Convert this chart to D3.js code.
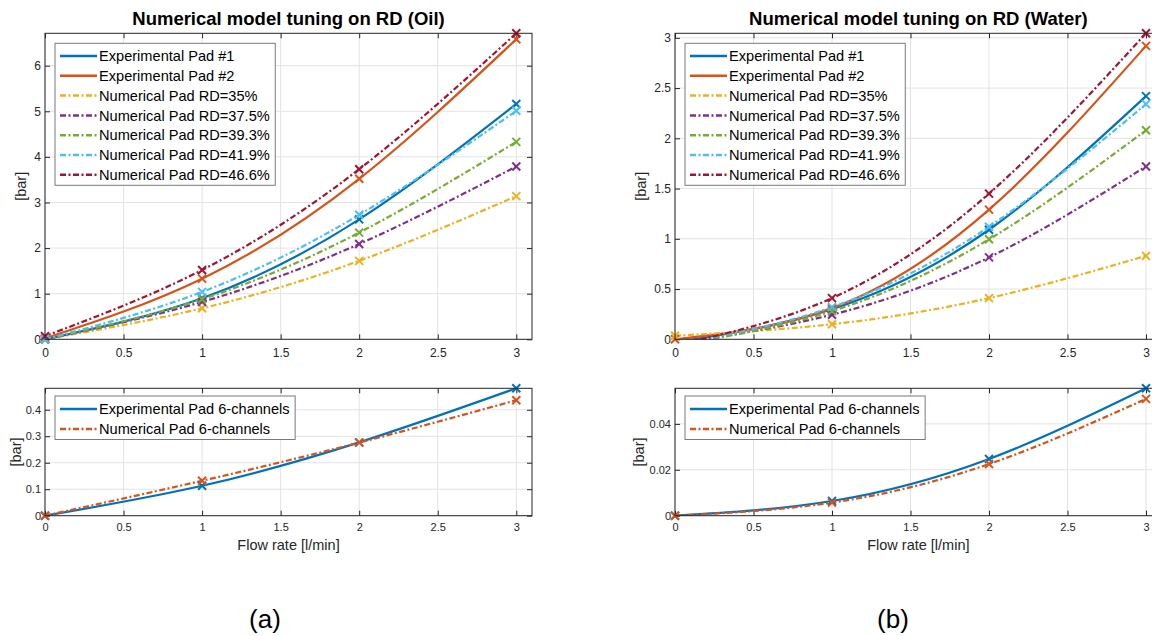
<!DOCTYPE html>
<html>
<head>
<meta charset="utf-8">
<script src="https://cdn.jsdelivr.net/npm/d3@7"></script>
<style>
  body { margin: 0; background: #fff; }
  svg { display: block; font-family: "Liberation Sans", Arial, sans-serif; }
</style>
</head>
<body>
<svg id="chart" width="1152" height="636"></svg>
<script>
// ---- data ----
const flowRate = [0, 1, 2, 3];
const flowTicks = [0, 0.5, 1, 1.5, 2, 2.5, 3];

const mainNames = ['Experimental Pad #1', 'Experimental Pad #2', 'Numerical Pad RD=35%',
    'Numerical Pad RD=37.5%', 'Numerical Pad RD=39.3%', 'Numerical Pad RD=41.9%', 'Numerical Pad RD=46.6%'];
const mainColors = ['#0072BD', '#D95319', '#EDB120', '#7E2F8E', '#77AC30', '#4DBEEE', '#A2142F'];
const mainDashed = [false, false, true, true, true, true, true];

const oilExp1 = [0, 0.90, 2.63, 5.16];
const oilExp2 = [0.02, 1.33, 3.52, 6.58];
const oilRD350 = [0, 0.68, 1.72, 3.14];
const oilRD375 = [0, 0.82, 2.09, 3.79];
const oilRD393 = [0, 0.88, 2.34, 4.33];
const oilRD419 = [0, 1.04, 2.73, 5.01];
const oilRD466 = [0.07, 1.52, 3.73, 6.71];

const waterExp1 = [-0.03, 0.30, 1.09, 2.42];
const waterExp2 = [0, 0.31, 1.29, 2.92];
const waterRD350 = [0.035, 0.15, 0.41, 0.83];
const waterRD375 = [-0.04, 0.245, 0.815, 1.72];
const waterRD393 = [-0.06, 0.28, 0.995, 2.08];
const waterRD419 = [-0.05, 0.32, 1.12, 2.34];
const waterRD466 = [-0.06, 0.41, 1.45, 3.045];

const chanNames = ['Experimental Pad 6-channels', 'Numerical Pad 6-channels'];
const chanColors = ['#0072BD', '#D95319'];
const chanDashed = [false, true];
const oilChanExp = [0, 0.113, 0.277, 0.481];
const oilChanNum = [0, 0.132, 0.276, 0.436];
const waterChanExp = [0, 0.0064, 0.0247, 0.0555];
const waterChanNum = [0, 0.0057, 0.0225, 0.0509];

const oilTicks = [0, 1, 2, 3, 4, 5, 6];
const waterTicks = [0, 0.5, 1, 1.5, 2, 2.5, 3];
const oilChanTicks = [0, 0.1, 0.2, 0.3, 0.4];
const waterChanTicks = [0, 0.02, 0.04];

const titles = ['Numerical model tuning on RD (Oil)', 'Numerical model tuning on RD (Water)'];
const xLabel = 'Flow rate [l/min]';
const yLabel = '[bar]';
const captions = ['(a)', '(b)'];

// ---- drawing ----
const svg = d3.select('#chart');
const defs = svg.append('defs');
const axisColor = '#262626';
const dashPattern = '6,2.5,2,2.5';

function buildSeries(names, colors, dashed, values) {
    return names.map((n, i) => ({ name: n, color: colors[i], dashed: dashed[i], values: values[i] }));
}

function drawPanel(p, idx) {
    const x = d3.scaleLinear().domain([0, 3.1]).range([p.left, p.right]);
    const yMax = d3.max(p.series, s => d3.max(s.values));
    const y = d3.scaleLinear().domain([0, yMax]).range([p.bottom, p.top]);
    const g = svg.append('g');

    // grid
    g.append('g').selectAll('line').data(flowTicks).join('line')
        .attr('x1', d => x(d)).attr('x2', d => x(d))
        .attr('y1', p.top).attr('y2', p.bottom)
        .attr('stroke', '#e3e3e3').attr('stroke-width', 1);
    g.append('g').selectAll('line').data(p.yTicks).join('line')
        .attr('x1', p.left).attr('x2', p.right)
        .attr('y1', d => y(d)).attr('y2', d => y(d))
        .attr('stroke', '#e3e3e3').attr('stroke-width', 1);

    // axes (ticks inward on all four sides)
    const fmt = d => String(d);
    const bottomAxis = g.append('g')
        .attr('transform', `translate(0, ${p.bottom})`)
        .call(d3.axisBottom(x).tickValues(flowTicks).tickFormat(fmt)
            .tickSizeInner(-5).tickSizeOuter(0).tickPadding(p.xPad));
    g.append('g')
        .attr('transform', `translate(0, ${p.top})`)
        .call(d3.axisTop(x).tickValues(flowTicks).tickFormat('')
            .tickSizeInner(-5).tickSizeOuter(0));
    const leftAxis = g.append('g')
        .attr('transform', `translate(${p.left}, 0)`)
        .call(d3.axisLeft(y).tickValues(p.yTicks).tickFormat(fmt)
            .tickSizeInner(-5).tickSizeOuter(0).tickPadding(4));
    g.append('g')
        .attr('transform', `translate(${p.right}, 0)`)
        .call(d3.axisRight(y).tickValues(p.yTicks).tickFormat('')
            .tickSizeInner(-5).tickSizeOuter(0));
    g.selectAll('.domain').remove();
    g.selectAll('.tick line').attr('stroke', axisColor);
    [bottomAxis, leftAxis].forEach(a => a
        .attr('font-family', null).attr('font-size', null)
        .selectAll('text').attr('fill', axisColor).style('font-size', p.tickFont + 'px'));

    // clip
    const clipId = 'clip' + idx;
    defs.append('clipPath').attr('id', clipId).append('rect')
        .attr('x', p.left).attr('y', p.top - 1)
        .attr('width', p.right - p.left).attr('height', p.bottom - p.top + 1);

    const line = d3.line()
        .x((d, i) => x(flowRate[i]))
        .y(d => y(d))
        .curve(d3.curveNatural);

    const plot = g.append('g').attr('clip-path', `url(#${clipId})`);
    p.series.forEach(s => {
        plot.append('path')
            .datum(s.values)
            .attr('fill', 'none')
            .attr('stroke', s.color)
            .attr('stroke-width', 2.2)
            .attr('stroke-dasharray', s.dashed ? dashPattern : null)
            .attr('d', line);
    });
    p.series.forEach(s => {
        g.append('g').selectAll('path')
            .data(s.values.map((v, i) => ({ v, fr: flowRate[i] })).filter(d => d.v >= 0))
            .join('path')
            .attr('transform', d => `translate(${x(d.fr)}, ${y(d.v)})`)
            .attr('d', 'M-4,-4L4,4M-4,4L4,-4')
            .attr('stroke', s.color)
            .attr('stroke-width', 2)
            .attr('fill', 'none');
    });

    // box
    g.append('rect')
        .attr('x', p.left).attr('y', p.top)
        .attr('width', p.right - p.left).attr('height', p.bottom - p.top)
        .attr('fill', 'none').attr('stroke', axisColor).attr('stroke-width', 1);

    // legend
    const lg = g.append('g');
    const lx = p.left + 10, ly = p.top + p.legendOffset;
    const box = lg.append('rect').attr('fill', '#fff').attr('stroke', '#7a7a7a').attr('stroke-width', 1);
    let maxW = 0;
    p.series.forEach((s, i) => {
        const cy = ly + p.legendFirst + i * p.legendStep;
        lg.append('line')
            .attr('x1', lx + 5).attr('x2', lx + 42)
            .attr('y1', cy).attr('y2', cy)
            .attr('stroke', s.color).attr('stroke-width', 2.5)
            .attr('stroke-dasharray', s.dashed ? dashPattern : null);
        const t = lg.append('text')
            .attr('x', lx + 44).attr('y', cy).attr('dy', '0.36em')
            .style('font-size', '14.6px').attr('fill', '#000')
            .text(s.name);
        maxW = Math.max(maxW, t.node().getComputedTextLength());
    });
    const lh = p.legendFirst + (p.series.length - 1) * p.legendStep + 10.5;
    box.attr('x', lx).attr('y', ly).attr('width', 44 + maxW + 5.5).attr('height', lh);

    // labels
    if (p.title) {
        g.append('text')
            .attr('x', (p.left + p.right) / 2).attr('y', p.top - 8)
            .attr('text-anchor', 'middle')
            .style('font-size', '18.5px').style('font-weight', 'bold').attr('fill', '#000')
            .text(p.title);
    }
    if (p.xLabel) {
        g.append('text')
            .attr('x', (p.left + p.right) / 2).attr('y', p.bottom + 34.5)
            .attr('text-anchor', 'middle')
            .style('font-size', '14.5px').attr('fill', axisColor)
            .text(p.xLabel);
    }
    g.append('text')
        .attr('transform', `translate(${p.left - p.yLabelOff}, ${(p.top + p.bottom) / 2}) rotate(-90)`)
        .attr('text-anchor', 'middle').attr('dy', '0.35em')
        .style('font-size', '14.5px').attr('fill', axisColor)
        .text(yLabel);
}

const panels = [
    { left: 45, right: 532, top: 33.3, bottom: 339.3, yTicks: oilTicks, title: titles[0],
      series: buildSeries(mainNames, mainColors, mainDashed,
          [oilExp1, oilExp2, oilRD350, oilRD375, oilRD393, oilRD419, oilRD466]),
      tickFont: 12, xPad: 9.5, yLabelOff: 24, legendOffset: 10, legendFirst: 12.7, legendStep: 19.8 },
    { left: 675, right: 1161.7, top: 33.3, bottom: 339.3, yTicks: waterTicks, title: titles[1],
      series: buildSeries(mainNames, mainColors, mainDashed,
          [waterExp1, waterExp2, waterRD350, waterRD375, waterRD393, waterRD419, waterRD466]),
      tickFont: 12, xPad: 9.5, yLabelOff: 34, legendOffset: 10, legendFirst: 12.7, legendStep: 19.8 },
    { left: 45, right: 532, top: 388.3, bottom: 515.7, yTicks: oilChanTicks, xLabel: xLabel,
      series: buildSeries(chanNames, chanColors, chanDashed, [oilChanExp, oilChanNum]),
      tickFont: 11, xPad: 8, yLabelOff: 29, legendOffset: 7.7, legendFirst: 13, legendStep: 20 },
    { left: 675, right: 1161.7, top: 388.3, bottom: 515.7, yTicks: waterChanTicks, xLabel: xLabel,
      series: buildSeries(chanNames, chanColors, chanDashed, [waterChanExp, waterChanNum]),
      tickFont: 11, xPad: 8, yLabelOff: 36, legendOffset: 7.7, legendFirst: 13, legendStep: 20 }
];

panels.forEach(drawPanel);

svg.selectAll('.caption').data(captions).join('text')
    .attr('class', 'caption')
    .attr('x', (d, i) => i === 0 ? 265 : 893)
    .attr('y', 628)
    .attr('text-anchor', 'middle')
    .style('font-size', '26px').attr('fill', '#000')
    .text(d => d);
</script>
</body>
</html>
